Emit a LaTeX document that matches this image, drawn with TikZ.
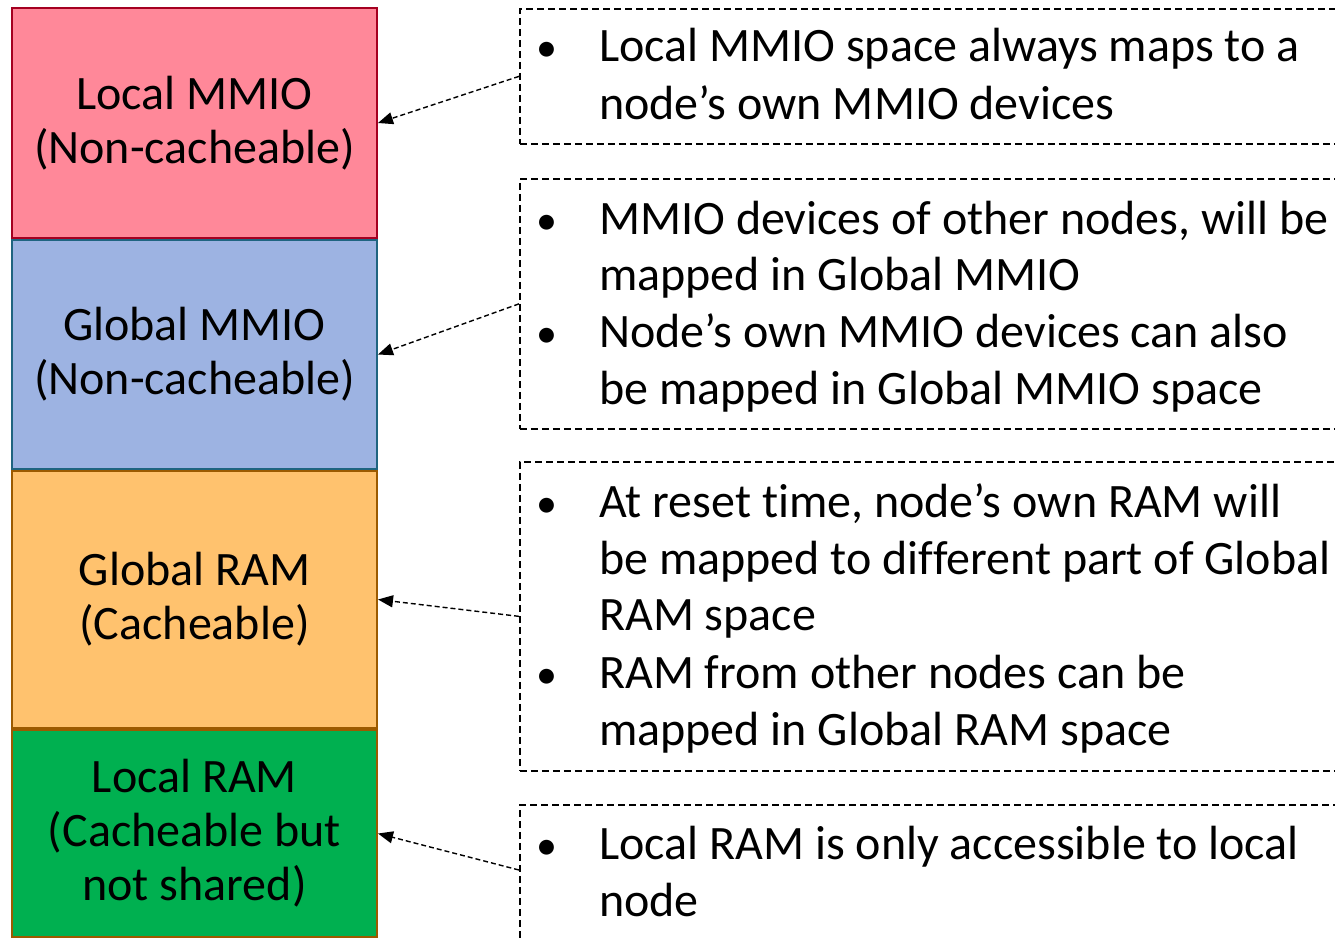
\documentclass[tikz,border=0pt]{standalone}
\usepackage{fontspec}
\setmainfont{Carlito}[Ligatures=CommonOff]
\usetikzlibrary{arrows.meta}

\definecolor{lmmiofill}{RGB}{255,136,153}
\definecolor{lmmioline}{RGB}{165,0,33}
\definecolor{gmmiofill}{RGB}{157,179,226}
\definecolor{gmmioline}{RGB}{31,100,128}
\definecolor{gramfill}{RGB}{255,194,110}
\definecolor{ramline}{RGB}{156,90,0}
\definecolor{lramfill}{RGB}{0,176,80}

\tikzset{
  region/.style={draw, line width=2pt, minimum width=365pt, anchor=north west,
    inner sep=0pt, align=center, font=\fontsize{48}{54}\selectfont},
  notebox/.style={draw, dash pattern=on 7pt off 4pt, line width=1.7pt,
    minimum width=830pt, anchor=north west, inner sep=0pt},
  bulletmark/.style={anchor=base, inner sep=0pt, font=\fontsize{42}{57}\selectfont},
  noteline/.style={anchor=base west, inner sep=0pt, font=\fontsize{48}{57}\selectfont},
  pointer/.style={dash pattern=on 5pt off 3pt, line width=1.4pt,
    -{Triangle[length=15pt,width=12pt]}},
}

\begin{document}
\begin{tikzpicture}[x=1pt,y=-1pt]
\useasboundingbox (0,0) rectangle (1335,938);
\clip (0,0) rectangle (1335,938);

% memory map regions
\node[region, fill=lmmiofill, draw=lmmioline, minimum height=230pt] (lmmio) at (11,7)
  {Local MMIO\\(Non-cacheable)};
\node[region, fill=gmmiofill, draw=gmmioline, minimum height=229pt] (gmmio) at (11,239)
  {Global MMIO\\(Non-cacheable)};
\node[region, fill=gramfill, draw=ramline, minimum height=257pt] (gram) at (11,470)
  {Global RAM\\(Cacheable)};
\node[region, fill=lramfill, draw=ramline, minimum height=207pt] (lram) at (11,729)
  {Local RAM\\(Cacheable but\\not shared)};

% explanatory note frames
\node[notebox, minimum height=135pt] (n1) at (519,8) {};
\node[notebox, minimum height=250pt] (n2) at (519,178) {};
\node[notebox, minimum height=309pt] (n3) at (519,461) {};
\node[notebox, minimum height=150pt] (n4) at (519,804) {};
\coordinate (n4in) at (519,870);

% note texts
\node[bulletmark] (b11) at (547,61) {•};
\node[noteline] (t11) at (599,61) {Local MMIO space always maps to a};
\node[noteline] (t12) at (599,119) {node’s own MMIO devices};

\node[bulletmark] (b21) at (547,234) {•};
\node[noteline] (t21) at (599,234) {MMIO devices of other nodes, will be};
\node[noteline] (t22) at (599,290) {mapped in Global MMIO};
\node[bulletmark] (b22) at (547,347) {•};
\node[noteline] (t23) at (599,347) {Node’s own MMIO devices can also};
\node[noteline] (t24) at (599,404) {be mapped in Global MMIO space};

\node[bulletmark] (b31) at (547,517) {•};
\node[noteline] (t31) at (599,517) {At reset time, node’s own RAM will};
\node[noteline] (t32) at (599,574) {be mapped to different part of Global};
\node[noteline] (t33) at (599,630) {RAM space};
\node[bulletmark] (b32) at (547,688) {•};
\node[noteline] (t34) at (599,688) {RAM from other nodes can be};
\node[noteline] (t35) at (599,745) {mapped in Global RAM space};

\node[bulletmark] (b41) at (547,859) {•};
\node[noteline] (t41) at (599,859) {Local RAM is only accessible to local};
\node[noteline] (t42) at (599,916) {node};

% pointers from notes to regions
\draw[pointer] (n1.west) -- (lmmio.east);
\draw[pointer] (n2.west) -- (gmmio.east);
\draw[pointer] (n3.west) -- (gram.east);
\draw[pointer] (n4in) -- (lram.east);
\end{tikzpicture}
\end{document}
